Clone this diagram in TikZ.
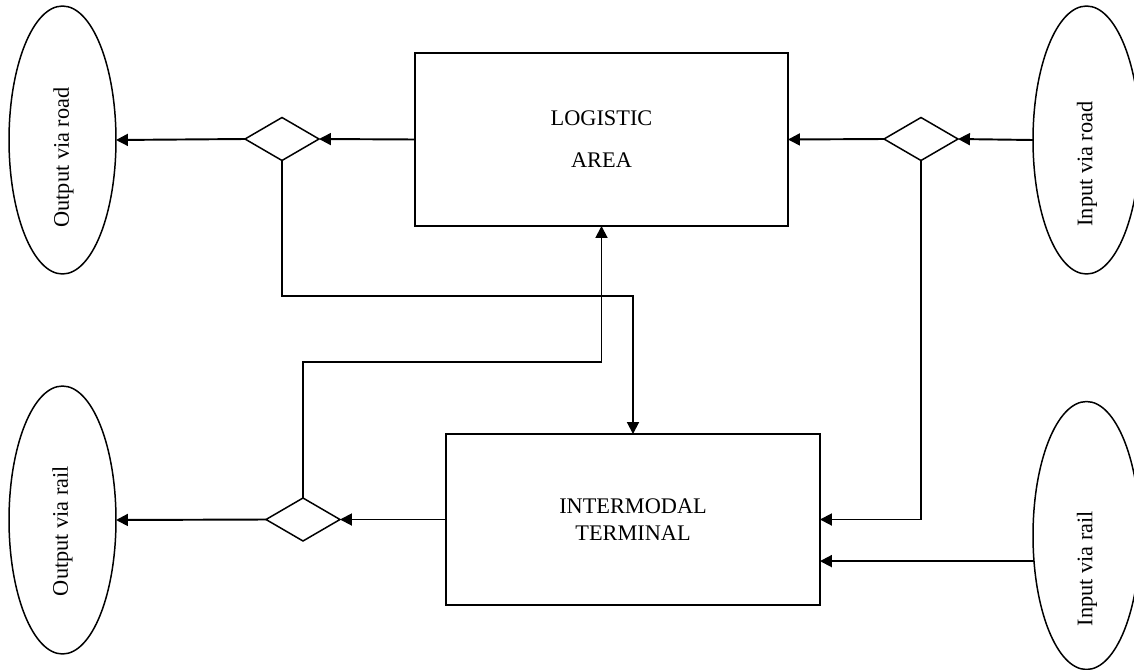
\documentclass[tikz,border=0pt]{standalone}
\usepackage{fontspec}
\setmainfont{Liberation Serif}
\usetikzlibrary{shapes.geometric,arrows.meta}
\begin{document}
\begin{tikzpicture}[x=0.02cm,y=-0.02cm,
  box/.style={draw,line width=0.85pt,inner sep=0,outer sep=0,align=center},
  endpoint/.style={draw,ellipse,line width=0.85pt,inner sep=0,outer sep=0,
    minimum width=2.14cm,minimum height=5.36cm},
  switch/.style={draw,diamond,line width=0.85pt,inner sep=0,outer sep=0,
    minimum width=1.48cm,minimum height=0.86cm},
  lbl/.style={rotate=90,font=\fontsize{12.7}{15}\selectfont,inner sep=0},
  conn/.style={line width=1.1pt,-{Triangle[length=6.8pt,width=6.8pt]}}]

\useasboundingbox (0,0) rectangle (1134,670);

% main areas
\node[box,minimum width=7.46cm,minimum height=3.46cm,
  font=\fontsize{12.7}{23.8}\selectfont] (LA) at (601.5,139.5) {LOGISTIC\\AREA};
\node[box,minimum width=7.48cm,minimum height=3.42cm,
  font=\fontsize{12.7}{15.1}\selectfont] (Term) at (633,519.5) {INTERMODAL\\TERMINAL};

% inputs and outputs
\node[endpoint] (OR) at (62.5,140) {};
\node[endpoint] (ORail) at (62.5,520) {};
\node[endpoint] (IR) at (1086.5,140) {};
\node[endpoint] (IRail) at (1086.5,535.5) {};
\node[lbl] (ORtxt) at (63.5,157.5) {Output via road};
\node[lbl] (ORailtxt) at (62.5,531) {Output via rail};
\node[lbl] (IRtxt) at (1087,164) {Input via road};
\node[lbl] (IRailtxt) at (1087,568.5) {Input via rail};

% split points
\node[switch] (dTL) at (282,139) {};
\node[switch] (dTR) at (921,139) {};
\node[switch] (dBL) at (303,519.5) {};

% bends of the cross links
\coordinate (k1) at (633,296);
\coordinate (k2) at (601.5,362);

% flows
\draw[conn] (LA.west) -- (dTL.east);
\draw[conn] (dTL.west) -- (OR.east);
\draw[conn] (dTL.south) |- (k1) -- (Term.north);
\draw[conn] (IR.west) -- (dTR.east);
\draw[conn] (dTR.west) -- (LA.east);
\draw[conn] (dTR.south) |- (Term.east);
\draw[conn] (IRail.206.8) -- (IRail.206.8 -| Term.east);
\draw[conn] (Term.west) -- (dBL.east);
\draw[conn] (dBL.west) -- (ORail.east);
\draw[conn] (dBL.north) |- (k2) -- (LA.south);
\end{tikzpicture}
\end{document}
